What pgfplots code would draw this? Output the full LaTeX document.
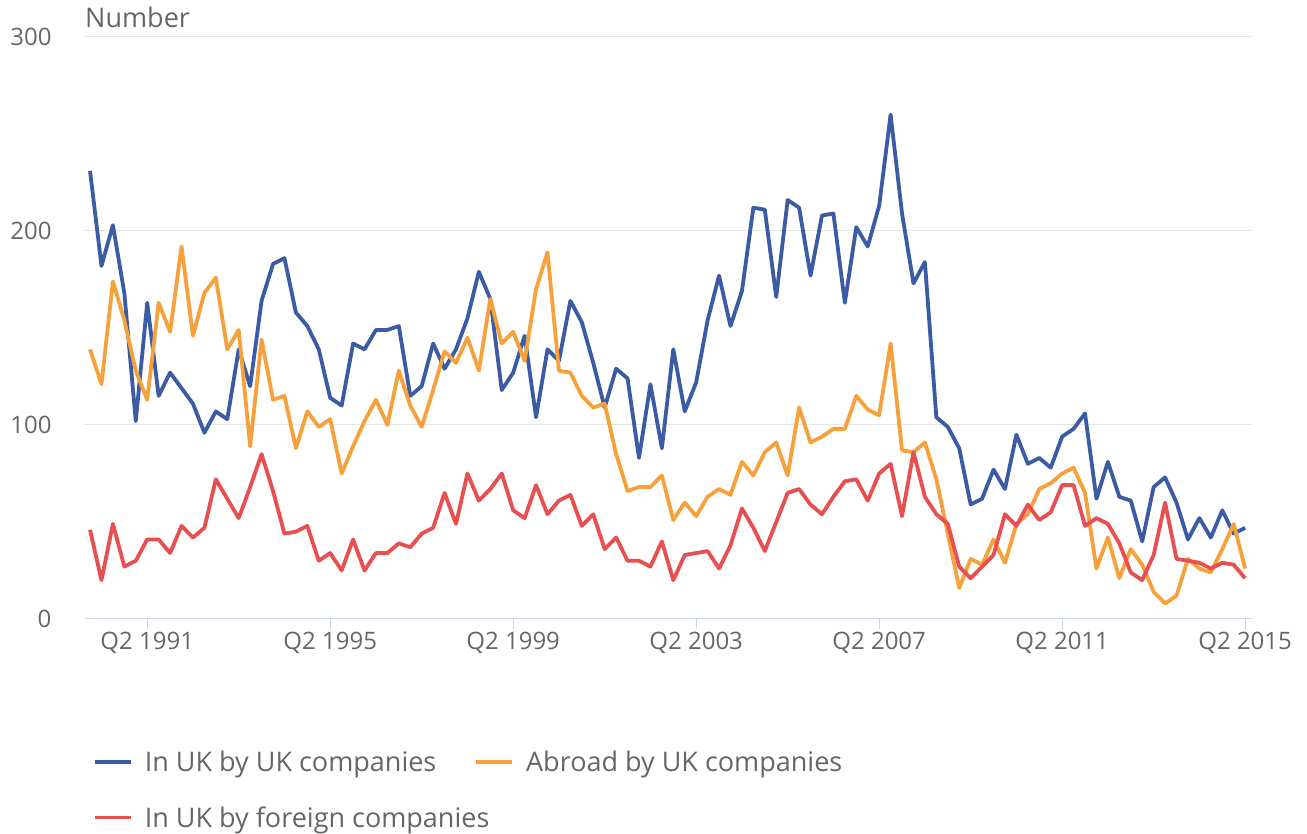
\documentclass[border=0pt]{standalone}
\usepackage{fontspec}
\setmainfont{Open Sans}
\usepackage{pgfplots}
\pgfplotsset{compat=1.18}
\usepackage{pgfplotstable}
\definecolor{cblue}{HTML}{3B5BA5}
\definecolor{corange}{HTML}{F7A13D}
\definecolor{cred}{HTML}{E84F50}
\definecolor{textgray}{HTML}{666666}
\definecolor{gridcol}{HTML}{E6E6E6}
\definecolor{axiscol}{HTML}{CCD6EB}
\pgfplotstableread{
x B O R
0 231 139 46
1 182 121 20
2 203 174 49
3 168 154 27
4 102 128 30
5 163 113 41
6 115 163 41
7 127 148 34
8 119 192 48
9 111 146 42
10 96 168 47
11 107 176 72
12 103 139 62
13 139 149 52
14 120 89 68
15 164 144 85
16 183 113 66
17 186 115 44
18 158 88 45
19 151 107 48
20 139 99 30
21 114 103 34
22 110 75 25
23 142 89 41
24 139 102 25
25 149 113 34
26 149 100 34
27 151 128 39
28 115 110 37
29 120 99 44
30 142 118 47
31 129 138 65
32 139 132 49
33 155 145 75
34 179 128 61
35 165 165 67
36 118 142 75
37 127 148 56
38 146 133 52
39 104 170 69
40 139 189 54
41 133 128 61
42 164 127 64
43 153 115 48
44 132 109 54
45 109 111 36
46 129 85 42
47 124 66 30
48 83 68 30
49 121 68 27
50 88 74 40
51 139 51 20
52 107 60 33
53 122 53 34
54 154 63 35
55 177 67 26
56 151 64 38
57 169 81 57
58 212 74 47
59 211 86 35
60 166 91 50
61 216 74 65
62 212 109 67
63 177 91 59
64 208 94 54
65 209 98 63
66 163 98 71
67 202 115 72
68 192 108 61
69 213 105 75
70 260 142 80
71 209 87 53
72 173 86 86
73 184 91 63
74 104 72 54
75 99 44 49
76 88 16 27
77 59 31 21
78 62 28 27
79 77 41 33
80 67 29 54
81 95 49 48
82 80 54 59
83 83 67 51
84 78 70 55
85 94 75 69
86 98 78 69
87 106 65 48
88 62 26 52
89 81 42 49
90 63 21 39
91 61 36 24
92 40 28 20
93 68 14 33
94 73 8 60
95 60 12 31
96 41 31 30
97 52 26 29
98 42 24 26
99 56 36 29
100 44 49 28
101 47 26 21
}\datatable
\begin{document}
\begin{tikzpicture}
\begin{axis}[
  at={(0,0)}, anchor=south west,
  width=1167pt, height=582pt, scale only axis,
  clip mode=individual,
  xmin=-0.44, xmax=101.6, ymin=0, ymax=300,
  axis x line*=bottom, axis y line*=left,
  x axis line style={draw=axiscol, line width=1pt},
  y axis line style={draw=none},
  ymajorgrids, major grid style={draw=gridcol, line width=1pt},
  ytick={0,100,200,300}, ytick style={draw=none},
  xtick={5,21,37,53,69,85,101},
  xticklabels={Q2 1991,Q2 1995,Q2 1999,Q2 2003,Q2 2007,Q2 2011,Q2 2015},
  xtick style={draw=axiscol, line width=1pt},
  major tick length=10pt, tick align=outside,
  tick label style={font=\fontsize{24}{28}\selectfont, text=textgray},
  /pgf/number format/assume math mode=true,
  yticklabel style={xshift=-20pt},
  legend columns=2,
  legend cell align=left,
  legend image code/.code={\draw[#1, line width=3.8pt] (0pt,0pt) -- (36pt,0pt);},
  legend style={draw=none, fill=none, inner sep=0pt, outer sep=0pt,
    at={(axis description cs:0.0069,-0.224)}, anchor=north west,
    font=\fontsize{27}{31}\selectfont, text=textgray,
    row sep=29pt,
    /tikz/every odd column/.append style={column sep=10pt},
    /tikz/every even column/.append style={column sep=36pt}},
]
\addplot[cblue, line width=3.8pt, line join=round] table[x=x, y=B] {\datatable};
\addlegendentry{In UK by UK companies}
\addplot[corange, line width=3.8pt, line join=round] table[x=x, y=O] {\datatable};
\addlegendentry{Abroad by UK companies}
\addplot[cred, line width=3.8pt, line join=round] table[x=x, y=R] {\datatable};
\addlegendentry{\rlap{In UK by foreign companies}\phantom{In UK by UK companies}}
\node[anchor=base west, inner sep=0pt, text=textgray, font=\fontsize{27}{31}\selectfont] at (rel axis cs:0,1) [yshift=9pt] {Number};
\end{axis}
\pgfresetboundingbox
\path[use as bounding box] (-85pt,-215pt) rectangle (1222pt,619pt);
\end{tikzpicture}
\end{document}
